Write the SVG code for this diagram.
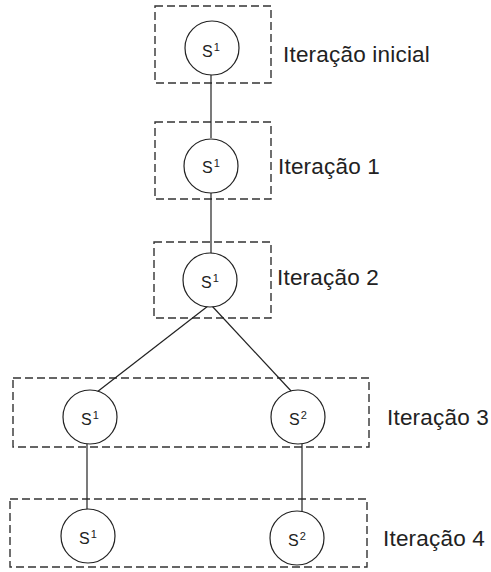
<svg xmlns="http://www.w3.org/2000/svg" width="491" height="572" viewBox="0 0 491 572">
<style>
.box{fill:none;stroke:#333;stroke-width:1.4;stroke-dasharray:8 4}
.n{fill:#fff;stroke:#222;stroke-width:1.2}
.e{stroke:#222;stroke-width:1.2;fill:none}
.t{font-family:"Liberation Sans",Arial,sans-serif;font-size:22.5px;letter-spacing:0.2px;fill:#222}
.s{font-family:"Liberation Sans",Arial,sans-serif;font-size:16px;fill:#222}
.p{font-size:11px}
</style>
<rect width="491" height="572" fill="#fff"/>
<g id="frames">
<rect class="box" x="155" y="6" width="116" height="77"/>
<rect class="box" x="155" y="122" width="116" height="77"/>
<rect class="box" x="154" y="242" width="117" height="76"/>
<rect class="box" x="13" y="378" width="356" height="69"/>
<rect class="box" x="10" y="499" width="357" height="68"/>
</g>
<g id="connectors">
<line class="e" x1="211" y1="75" x2="211" y2="138"/>
<line class="e" x1="211" y1="193" x2="211" y2="254"/>
<line class="e" x1="208" y1="306" x2="97" y2="392"/>
<line class="e" x1="212" y1="306" x2="292" y2="392"/>
<line class="e" x1="87" y1="444" x2="87" y2="510"/>
<line class="e" x1="302" y1="444" x2="302" y2="512"/>
</g>
<g id="n0"><circle class="n" cx="212" cy="48" r="27"/><text class="s" x="211" y="57" text-anchor="middle">S<tspan class="p" dx="1" dy="-6">1</tspan></text></g>
<g id="n1"><circle class="n" cx="211" cy="166" r="27"/><text class="s" x="211" y="173" text-anchor="middle">S<tspan class="p" dx="1" dy="-6">1</tspan></text></g>
<g id="n2"><circle class="n" cx="210" cy="280" r="27"/><text class="s" x="210" y="288" text-anchor="middle">S<tspan class="p" dx="1" dy="-6">1</tspan></text></g>
<g id="n3"><circle class="n" cx="90" cy="417" r="27"/><text class="s" x="90" y="425" text-anchor="middle">S<tspan class="p" dx="1" dy="-6">1</tspan></text></g>
<g id="n4"><circle class="n" cx="298" cy="417" r="27"/><text class="s" x="298" y="425" text-anchor="middle">S<tspan class="p" dx="1" dy="-6">2</tspan></text></g>
<g id="n5"><circle class="n" cx="88" cy="536" r="27"/><text class="s" x="88" y="544" text-anchor="middle">S<tspan class="p" dx="1" dy="-6">1</tspan></text></g>
<g id="n6"><circle class="n" cx="297" cy="538" r="27"/><text class="s" x="297" y="546" text-anchor="middle">S<tspan class="p" dx="1" dy="-6">2</tspan></text></g>
<g id="labels">
<text class="t" x="283" y="62">Iteração inicial</text>
<text class="t" x="278" y="174">Iteração  1</text>
<text class="t" x="277" y="285">Iteração 2</text>
<text class="t" x="387" y="425">Iteração 3</text>
<text class="t" x="383" y="546">Iteração 4</text>
</g>
</svg>
